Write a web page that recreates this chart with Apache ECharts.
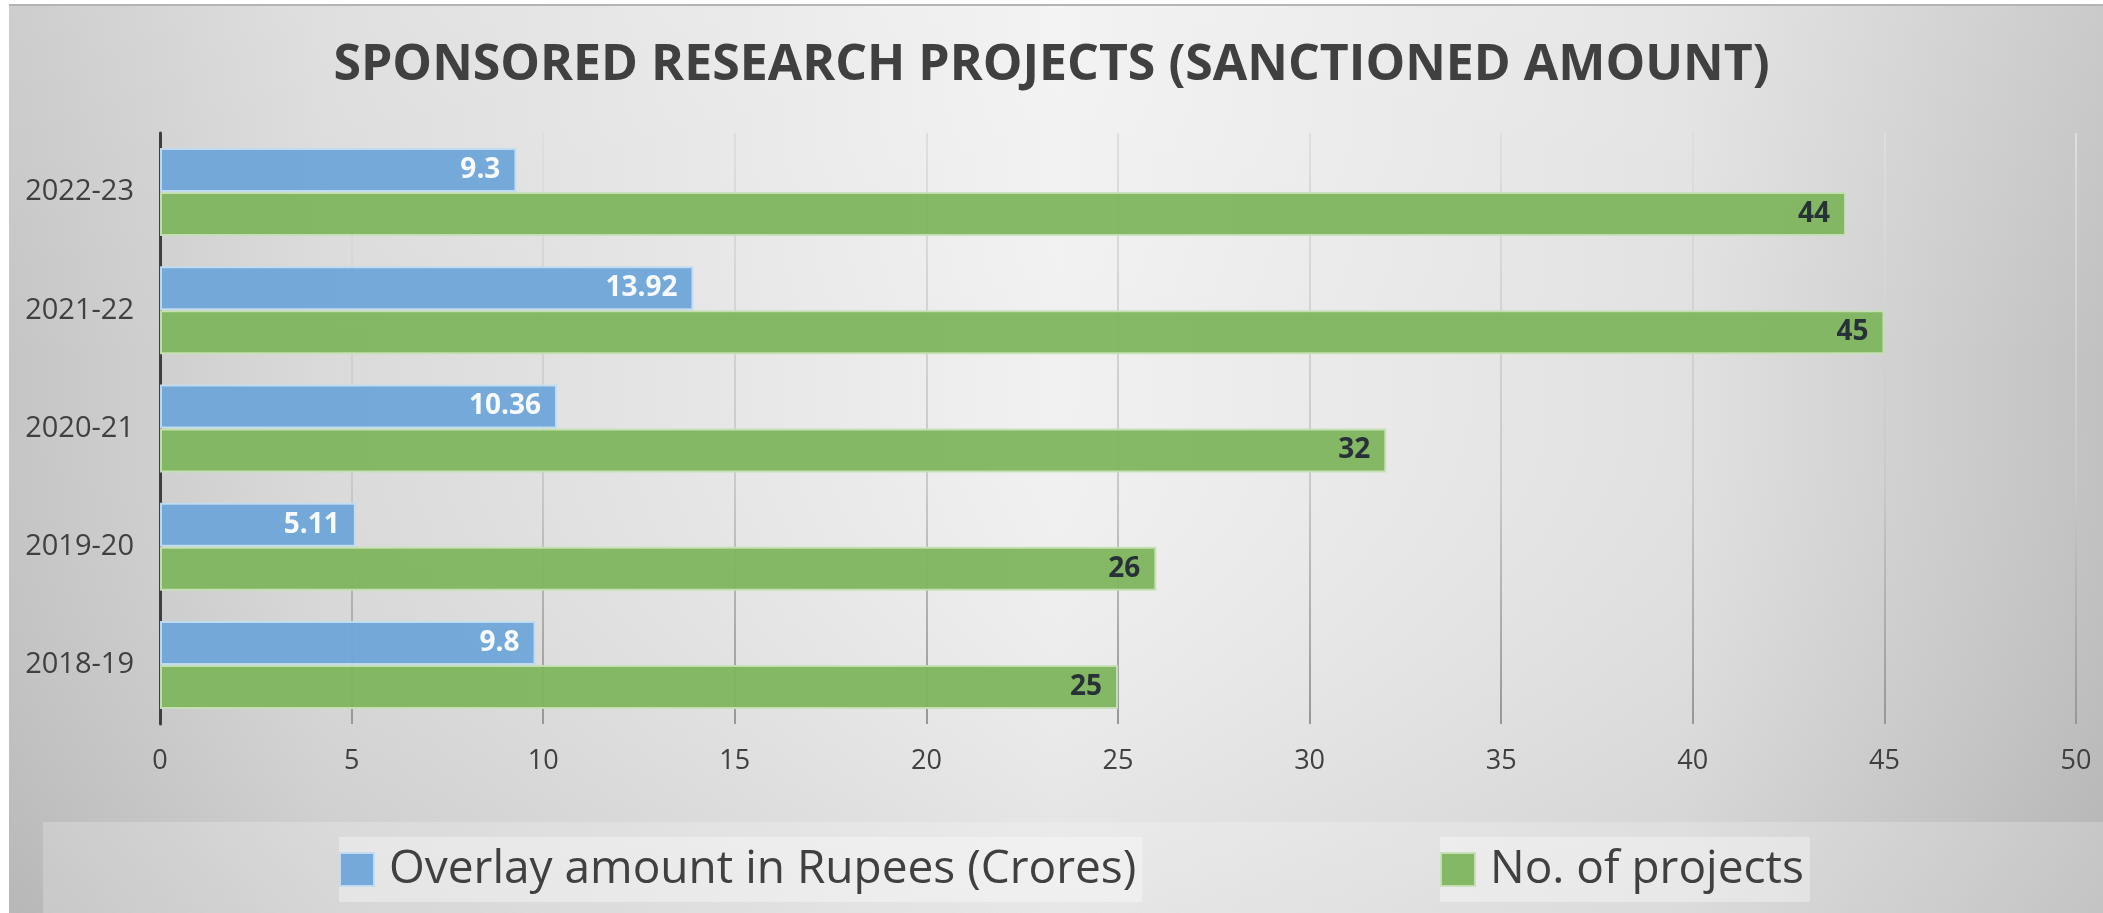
<!DOCTYPE html>
<html>
<head>
<meta charset="utf-8">
<title>Sponsored Research Projects</title>
<script src="https://cdn.jsdelivr.net/npm/echarts@6/dist/echarts.min.js"></script>
<style>
  html, body { margin: 0; padding: 0; background: #fff; }
  #chart { width: 2103px; height: 913px; }
</style>
</head>
<body>
<div id="chart"></div>
<script>
// 数据
const years = ['2022-23', '2021-22', '2020-21', '2019-20', '2018-19']
const amountCrores = [9.3, 13.92, 10.36, 5.11, 9.8]
const projectCount = [44, 45, 32, 26, 25]
const xTicks = [0, 5, 10, 15, 20, 25, 30, 35, 40, 45, 50]

const FONT = '"Open Sans", "Noto Sans", sans-serif'
const chart = echarts.init(document.getElementById('chart'))

// 网格线：上浅下深
const gridLineColor = new echarts.graphic.LinearGradient(0, 133, 0, 724, [
  { offset: 0, color: '#dedede' },
  { offset: 0.6, color: '#c9c9c9' },
  { offset: 1, color: '#979797' }
], true)

const legendBase = {
  top: 837,
  icon: 'rect',
  itemWidth: 34,
  itemHeight: 33,
  padding: [4, 6, 4, 0],
  backgroundColor: 'rgba(255,255,255,0.35)',
  textStyle: { fontFamily: FONT, fontSize: 46, color: '#404040', lineHeight: 57, padding: [0, 0, 0, 10] }
}

chart.setOption({
  animation: false,
  graphic: [
    // 背景：左右暗、中间亮
    {
      type: 'rect', z: -10, silent: true,
      shape: { x: 9, y: 4, width: 2094, height: 909 },
      style: {
        fill: new echarts.graphic.LinearGradient(0, 0, 1, 0, [
          { offset: 0, color: '#c5c5c5' },
          { offset: 0.15, color: '#dadada' },
          { offset: 0.5, color: '#f1f1f1' },
          { offset: 0.8, color: '#e1e1e1' },
          { offset: 1, color: '#c1c1c1' }
        ])
      }
    },
    {
      type: 'rect', z: -9, silent: true,
      shape: { x: 9, y: 4, width: 2094, height: 909 },
      style: {
        fill: new echarts.graphic.LinearGradient(0, 0, 0, 1, [
          { offset: 0, color: 'rgba(255,255,255,0.15)' },
          { offset: 0.4, color: 'rgba(255,255,255,0)' },
          { offset: 1, color: 'rgba(0,0,0,0.07)' }
        ])
      }
    },
    {
      type: 'line', z: -8, silent: true,
      shape: { x1: 9, y1: 5, x2: 2103, y2: 5 },
      style: { stroke: '#b4b4b4', lineWidth: 2 }
    },
    {
      type: 'rect', z: -8, silent: true,
      shape: { x: 43, y: 822, width: 2060, height: 91 },
      style: { fill: 'rgba(255,255,255,0.22)' }
    }
  ],
  title: {
    text: 'SPONSORED RESEARCH PROJECTS (SANCTIONED AMOUNT)',
    left: 'center',
    top: 36,
    textStyle: { fontFamily: FONT, fontSize: 50, fontWeight: 'bold', color: '#404040' }
  },
  legend: [
    Object.assign({}, legendBase, { left: 339, data: ['Overlay amount in Rupees (Crores)'] }),
    Object.assign({}, legendBase, { left: 1440, data: ['No. of projects'] })
  ],
  grid: { left: 160, right: 27, top: 133, bottom: 189, containLabel: false },
  xAxis: {
    type: 'value',
    min: xTicks[0],
    max: xTicks[xTicks.length - 1],
    interval: xTicks[1] - xTicks[0],
    axisLine: { show: false },
    axisTick: { show: false },
    axisLabel: { fontFamily: FONT, fontSize: 27, color: '#404040', margin: 24 },
    splitLine: { show: true, lineStyle: { color: gridLineColor, width: 2 } }
  },
  yAxis: {
    type: 'category',
    inverse: true,
    data: years,
    axisLine: { show: true, lineStyle: { color: '#3f3f3f', width: 3 } },
    axisTick: { show: false },
    axisLabel: { fontFamily: FONT, fontSize: 29, color: '#404040', margin: 26 }
  },
  series: [
    {
      name: 'Overlay amount in Rupees (Crores)',
      type: 'bar',
      data: amountCrores,
      barWidth: 44,
      barGap: '0%',
      itemStyle: { color: '#6ea5d8', borderColor: '#c3dcf1', borderWidth: 2, opacity: 0.95 },
      label: {
        show: true, position: 'insideRight', distance: 16,
        fontFamily: FONT, fontSize: 28, fontWeight: 'bold', color: '#ffffff'
      }
    },
    {
      name: 'No. of projects',
      type: 'bar',
      data: projectCount,
      barWidth: 44,
      barGap: '0%',
      itemStyle: { color: '#7fb55d', borderColor: '#c6e0b5', borderWidth: 2, opacity: 0.95 },
      label: {
        show: true, position: 'insideRight', distance: 16,
        fontFamily: FONT, fontSize: 28, fontWeight: 'bold', color: '#212a36'
      }
    }
  ]
})

window.addEventListener('resize', () => chart.resize())
</script>
</body>
</html>
